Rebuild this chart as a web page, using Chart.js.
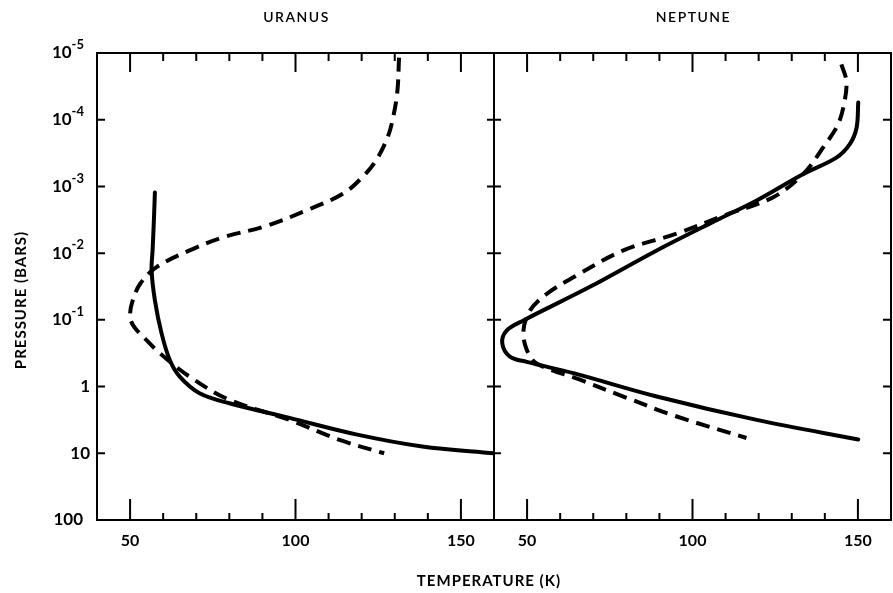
<!DOCTYPE html>
<html>
<head>
<meta charset="utf-8">
<script src="https://cdn.jsdelivr.net/npm/chart.js@4.4.0/dist/chart.umd.min.js"></script>
<style>
  html, body { margin: 0; padding: 0; background: #fff; }
  #wrap { position: relative; width: 893px; height: 593px; }
  canvas { position: absolute; left: 0; top: 0; }
</style>
</head>
<body>
<div id="wrap">
  <canvas id="uranus" width="893" height="593"></canvas>
  <canvas id="neptune" width="893" height="593"></canvas>
</div>
<script>
// temperature (K) vs pressure (bars)
const uranusSolidT = [57.5, 57.2, 56.8, 56.5, 57.5, 59.5, 62, 65, 71, 80, 98.2, 118.3, 138.3, 160];
const uranusSolidP = [1.23e-3, 3.2e-3, 9.1e-3, 0.018, 0.051, 0.158, 0.40, 0.71, 1.26, 1.78, 2.95, 5.2, 7.9, 10];

const uranusDashT = [131.3, 130.8, 129.5, 127.8, 124.3, 120.3, 114.3, 103.2, 91.2, 78.1, 68, 58, 53, 50.6, 50.0, 50.3, 51.6, 54, 59, 68, 80, 98.2, 113.3, 126.8];
const uranusDashP = [1.17e-5, 3.7e-5, 9.3e-5, 1.86e-4, 4.1e-4, 7.2e-4, 1.29e-3, 2.3e-3, 3.9e-3, 5.8e-3, 9.1e-3, 0.0162, 0.029, 0.055, 0.08, 0.105, 0.135, 0.18, 0.316, 0.71, 1.58, 3.16, 6.3, 10];

const neptuneSolidT = [150.1, 149.6, 147.6, 143.5, 133.5, 119.4, 107.3, 89.2, 69, 48.9, 43.8, 42.5, 44.8, 49.9, 64, 89.2, 119.4, 150.1];
const neptuneSolidP = [5.5e-5, 1.32e-4, 2.3e-4, 3.7e-4, 6.5e-4, 1.62e-3, 3.2e-3, 9.1e-3, 0.032, 0.102, 0.145, 0.224, 0.355, 0.427, 0.63, 1.41, 3.16, 6.2];

const neptuneDashT = [145, 146.5, 146, 144, 139.5, 133.5, 124.4, 109.3, 95.2, 79.1, 64, 55.9, 50.9, 48.9, 49.9, 52.9, 66, 79.1, 94.2, 116.3];
const neptuneDashP = [1.48e-5, 2.6e-5, 5.2e-5, 1.17e-4, 2.6e-4, 6.5e-4, 1.45e-3, 2.75e-3, 5.1e-3, 9.1e-3, 0.023, 0.041, 0.072, 0.145, 0.28, 0.45, 0.79, 1.41, 2.7, 5.9];

const pressureTicks = [1e-5, 1e-4, 1e-3, 1e-2, 1e-1, 1, 10, 100];
const pressureExp = ['-5', '-4', '-3', '-2', '-1', '', '', ''];
const pressureBase = ['10', '10', '10', '10', '10', '1', '10', '100'];
const tempLabels = [50, 100, 150];
const tempMarks = [50, 60, 70, 80, 90, 100, 110, 120, 130, 140, 150];

const FONT = 'Lato, "DejaVu Sans", sans-serif';

function pts(T, P) {
  return T.map((t, i) => ({ x: t, y: P[i] }));
}

// frame, inward tick marks, pressure labels and titles
const frameTicks = {
  id: 'frameTicks',
  afterDatasetsDraw(chart, args, opts) {
    const { ctx, chartArea: a, scales: { x, y } } = chart;
    ctx.save();
    ctx.strokeStyle = '#000';
    ctx.lineWidth = 2;
    ctx.strokeRect(a.left, a.top, a.right - a.left, a.bottom - a.top);
    ctx.beginPath();
    tempMarks.forEach(t => {
      const px = x.getPixelForValue(t);
      const major = t % 50 === 0;
      ctx.moveTo(px, a.bottom); ctx.lineTo(px, a.bottom - (major ? 21 : 7));
      ctx.moveTo(px, a.top); ctx.lineTo(px, a.top + (major ? 19 : 8));
    });
    pressureTicks.slice(1, -1).forEach(p => {
      const py = y.getPixelForValue(p);
      if (opts.side === 'left') {
        ctx.moveTo(a.left, py); ctx.lineTo(a.left + 8, py);
        ctx.moveTo(a.right - 7, py); ctx.lineTo(a.right + 7, py);
      } else {
        ctx.moveTo(a.right - 8, py); ctx.lineTo(a.right, py);
      }
    });
    ctx.stroke();

    ctx.fillStyle = '#000';
    ctx.textBaseline = 'middle';
    ctx.textAlign = 'center';
    ctx.font = '600 14px ' + FONT;
    ctx.letterSpacing = '1.5px';
    ctx.fillText(opts.title, (a.left + a.right) / 2 + 1, 17);

    if (opts.side === 'left') {
      // pressure tick labels with superscript exponents
      ctx.letterSpacing = '0px';
      ctx.textAlign = 'right';
      pressureTicks.forEach((p, i) => {
        const py = y.getPixelForValue(p);
        const e = pressureExp[i];
        if (e) {
          ctx.font = 'bold 13px ' + FONT;
          ctx.fillText(e, 84, py - 8);
          const w = ctx.measureText(e).width;
          ctx.font = 'bold 17px ' + FONT;
          ctx.fillText(pressureBase[i], 84 - w, py);
        } else {
          ctx.font = 'bold 17px ' + FONT;
          ctx.fillText(pressureBase[i], p === 100 ? 83 : 90, py);
        }
      });

      ctx.textAlign = 'center';
      ctx.font = 'bold 15px ' + FONT;
      ctx.letterSpacing = '1px';
      ctx.fillText('TEMPERATURE (K)', 489, 581);
      ctx.translate(21, 300);
      ctx.rotate(-Math.PI / 2);
      ctx.fillText('PRESSURE (BARS)', 0, 0);
    }
    ctx.restore();
  }
};

function makeChart(id, title, solid, dashed, side) {
  const left = side === 'left';
  return new Chart(document.getElementById(id), {
    type: 'scatter',
    data: {
      datasets: [
        { data: solid, showLine: true, borderColor: '#000', borderWidth: 4,
          pointRadius: 0, tension: 0.35, borderCapStyle: 'round' },
        { data: dashed, showLine: true, borderColor: '#000', borderWidth: 4,
          pointRadius: 0, tension: 0.35, borderDash: [14, 8] }
      ]
    },
    options: {
      responsive: false,
      animation: false,
      devicePixelRatio: 1,
      layout: { padding: left ? { left: 0, right: 399, top: 53, bottom: 0 }
                              : { left: 494, right: 2, top: 53, bottom: 0 } },
      plugins: {
        legend: { display: false },
        tooltip: { enabled: false },
        title: { display: false },
        frameTicks: { side: side, title: title }
      },
      scales: {
        x: {
          type: 'linear', min: 40, max: 160,
          afterBuildTicks: s => { s.ticks = tempLabels.map(v => ({ value: v })); },
          afterFit: s => { s.height = 73; },
          grid: { display: false, drawTicks: false },
          border: { display: false },
          ticks: { color: '#000', padding: 11, maxRotation: 0,
                   font: { family: FONT, size: 16, weight: 'bold' } }
        },
        y: {
          type: 'logarithmic', reverse: true, min: 1e-5, max: 100,
          display: left,
          afterBuildTicks: s => { s.ticks = pressureTicks.map(v => ({ value: v })); },
          afterFit: s => { if (left) s.width = 97; },
          grid: { display: false, drawTicks: false },
          border: { display: false },
          ticks: { display: false }
        }
      }
    },
    plugins: [frameTicks]
  });
}

makeChart('uranus', 'URANUS', pts(uranusSolidT, uranusSolidP), pts(uranusDashT, uranusDashP), 'left');
makeChart('neptune', 'NEPTUNE', pts(neptuneSolidT, neptuneSolidP), pts(neptuneDashT, neptuneDashP), 'right');
</script>
</body>
</html>
